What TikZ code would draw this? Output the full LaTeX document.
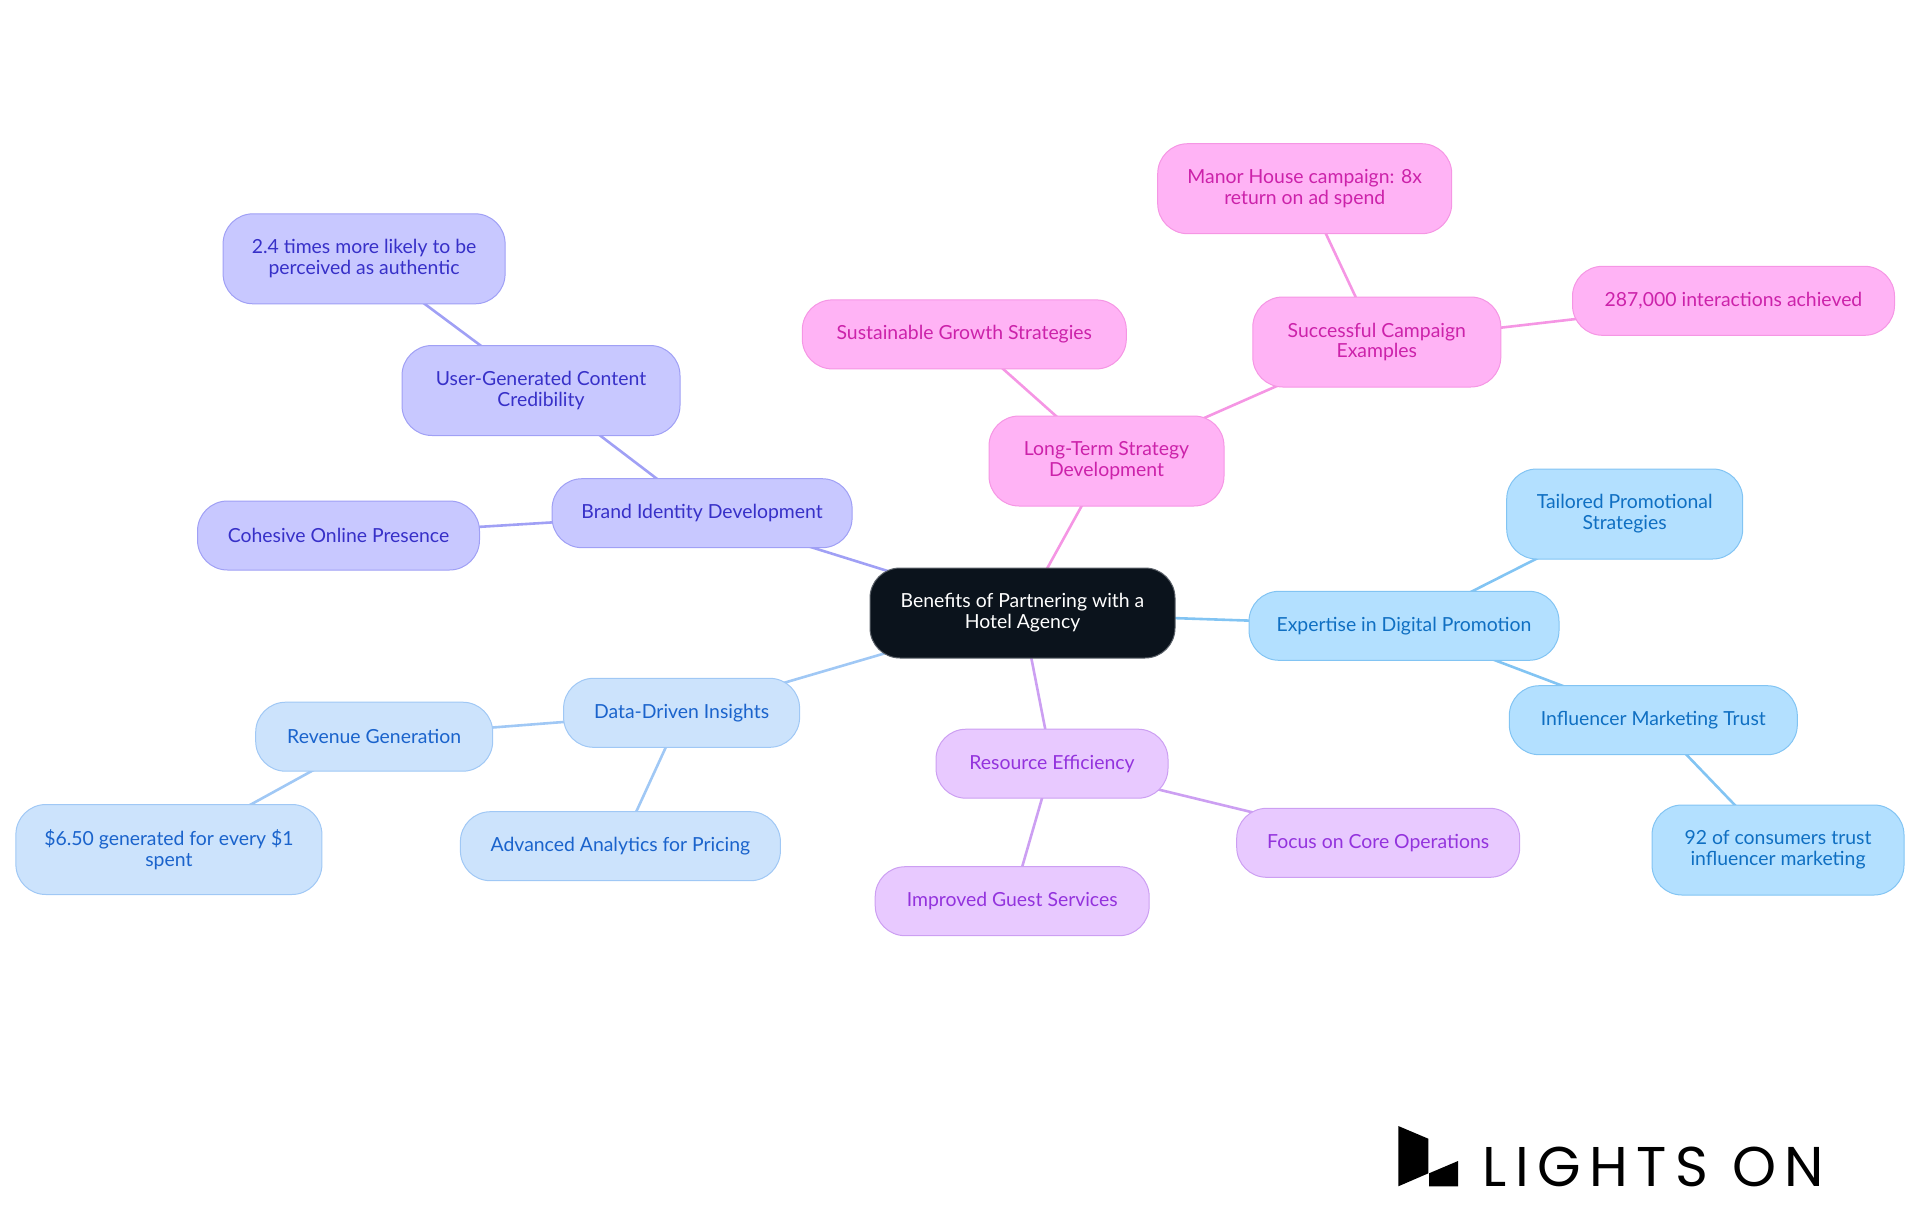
\documentclass[tikz,border=0pt]{standalone}
\usepackage{fontspec}
\setmainfont{Lato}
\newfontfamily\logofont[LetterSpace=15.3]{Poppins}
\usetikzlibrary{backgrounds}

\definecolor{rootfill}{HTML}{0B131C}
\definecolor{rootline}{HTML}{5A6068}
\definecolor{bluefill}{HTML}{B3E0FF}
\definecolor{blueline}{HTML}{82C4F3}
\definecolor{bluetext}{HTML}{0F6FC2}
\definecolor{skyfill}{HTML}{CCE3FC}
\definecolor{skyline}{HTML}{A0C8F5}
\definecolor{skytext}{HTML}{1A63CC}
\definecolor{indigofill}{HTML}{C8C8FF}
\definecolor{indigoline}{HTML}{A0A0F5}
\definecolor{indigotext}{HTML}{3730C8}
\definecolor{pinkfill}{HTML}{FFB3F5}
\definecolor{pinkline}{HTML}{F596E4}
\definecolor{pinktext}{HTML}{CC22AA}
\definecolor{purplefill}{HTML}{E8C9FF}
\definecolor{purpleline}{HTML}{CC9FF2}
\definecolor{purpletext}{HTML}{9333DD}

\tikzset{
  mapnode/.style={draw, line width=0.5pt, rounded corners=15pt, align=center, inner sep=0pt,
    font=\fontsize{9.7}{10.4}\selectfont, minimum height=34.5pt},
  twoline/.style={minimum height=45pt},
  rootnode/.style={mapnode, twoline, fill=rootfill, draw=rootline, text=white},
  bluenode/.style={mapnode, fill=bluefill, draw=blueline, text=bluetext},
  skynode/.style={mapnode, fill=skyfill, draw=skyline, text=skytext},
  indigonode/.style={mapnode, fill=indigofill, draw=indigoline, text=indigotext},
  pinknode/.style={mapnode, fill=pinkfill, draw=pinkline, text=pinktext},
  purplenode/.style={mapnode, fill=purplefill, draw=purpleline, text=purpletext},
  link/.style={line width=1.3pt}
}

\begin{document}
\begin{tikzpicture}[x=0.5pt, y=-0.5pt]
\useasboundingbox (0,0) rectangle (1920,1215);

\node[rootnode, minimum width=152.5pt] (root) at (1022.5,613) {Benefits of Partnering with a\\Hotel Agency};

% right side
\node[bluenode, minimum width=155pt] (expertise) at (1404,625.8) {Expertise in Digital Promotion};
\node[bluenode, twoline, minimum width=118pt] (tailored) at (1624.7,514) {Tailored Promotional\\Strategies};
\node[bluenode, minimum width=144pt] (influencer) at (1653.3,720.2) {Influencer Marketing Trust};
\node[bluenode, twoline, minimum width=126pt] (consumers) at (1778,850) {92 of consumers trust\\influencer marketing};

% top
\node[pinknode, twoline, minimum width=117.5pt] (longterm) at (1106.5,461) {Long-Term Strategy\\Development};
\node[pinknode, minimum width=162pt] (sustainable) at (964.3,334.4) {Sustainable Growth Strategies};
\node[pinknode, twoline, minimum width=124pt] (campaign) at (1376.8,342) {Successful Campaign\\Examples};
\node[pinknode, twoline, minimum width=147pt] (manor) at (1304.7,188.7) {Manor House campaign: 8x\\return on ad spend};
\node[pinknode, minimum width=161pt] (interactions) at (1733.5,300.8) {287,000 interactions achieved};

% upper left
\node[indigonode, minimum width=150pt] (brand) at (702.1,513.2) {Brand Identity Development};
\node[indigonode, twoline, minimum width=139pt] (usercontent) at (541,390.5) {User-Generated Content\\Credibility};
\node[indigonode, twoline, minimum width=141pt] (authentic) at (364.1,258.8) {2.4 times more likely to be\\perceived as authentic};
\node[indigonode, minimum width=141pt] (cohesive) at (338.5,535.5) {Cohesive Online Presence};

% lower left
\node[skynode, minimum width=118pt] (insights) at (681.6,712.8) {Data-Driven Insights};
\node[skynode, minimum width=118.5pt] (revenue) at (374.2,736.7) {Revenue Generation};
\node[skynode, twoline, minimum width=153pt] (generated) at (168.9,849.5) {\$6.50 generated for every \$1\\spent};
\node[skynode, minimum width=160pt] (analytics) at (620.4,846.2) {Advanced Analytics for Pricing};

% bottom
\node[purplenode, minimum width=116pt] (resource) at (1052,763.7) {Resource Efficiency};
\node[purplenode, minimum width=141.5pt] (core) at (1378.2,842.8) {Focus on Core Operations};
\node[purplenode, minimum width=137pt] (guest) at (1012.2,901.2) {Improved Guest Services};

% connectors run centre to centre behind the boxes
\begin{scope}[on background layer]
\draw[link, blueline] (root.center) -- (expertise.center);
\draw[link, blueline] (expertise.center) -- (tailored.center);
\draw[link, blueline] (expertise.center) -- (influencer.center);
\draw[link, blueline] (influencer.center) -- (consumers.center);
\draw[link, pinkline] (root.center) -- (longterm.center);
\draw[link, pinkline] (longterm.center) -- (sustainable.center);
\draw[link, pinkline] (longterm.center) -- (campaign.center);
\draw[link, pinkline] (campaign.center) -- (manor.center);
\draw[link, pinkline] (campaign.center) -- (interactions.center);
\draw[link, indigoline] (root.center) -- (brand.center);
\draw[link, indigoline] (brand.center) -- (usercontent.center);
\draw[link, indigoline] (usercontent.center) -- (authentic.center);
\draw[link, indigoline] (brand.center) -- (cohesive.center);
\draw[link, skyline] (root.center) -- (insights.center);
\draw[link, skyline] (insights.center) -- (revenue.center);
\draw[link, skyline] (revenue.center) -- (generated.center);
\draw[link, skyline] (insights.center) -- (analytics.center);
\draw[link, purpleline] (root.center) -- (resource.center);
\draw[link, purpleline] (resource.center) -- (core.center);
\draw[link, purpleline] (resource.center) -- (guest.center);
\end{scope}

% logo
\fill (1398.3,1126) -- (1428.3,1138.7) -- (1428.3,1173.3) -- (1398.3,1186.3) -- cycle;
\fill (1429,1173.3) -- (1458,1161) -- (1458,1186.3) -- (1429,1186.3) -- cycle;
\node[anchor=base west, inner sep=0pt, font=\logofont\fontsize{28}{28}\selectfont] (logotext) at (1482,1186.3) {LIGHTS ON};
\end{tikzpicture}
\end{document}
